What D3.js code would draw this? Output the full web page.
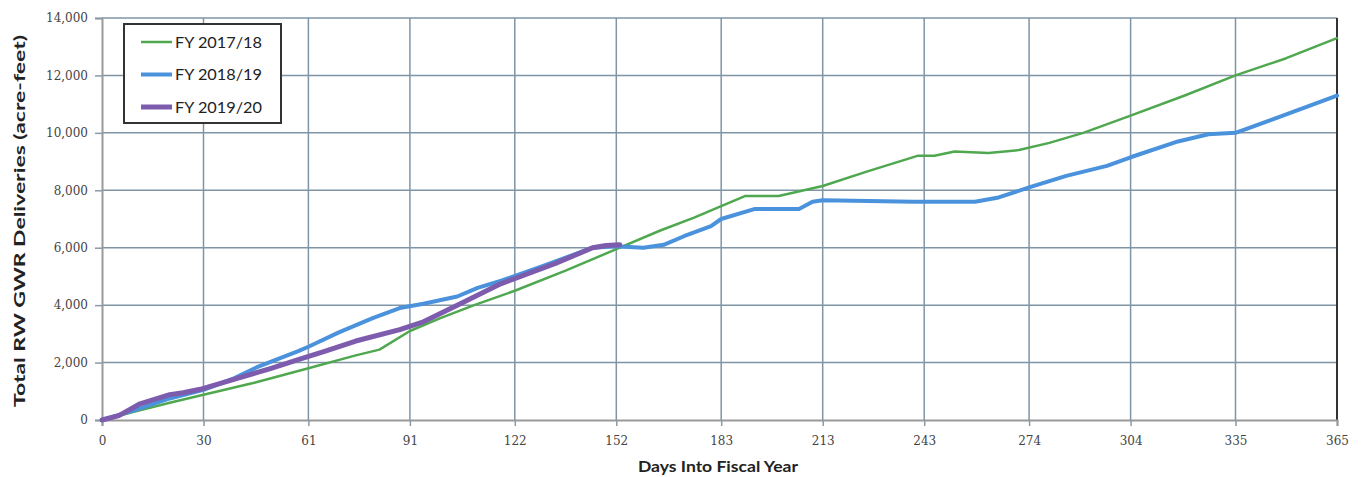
<!DOCTYPE html>
<html>
<head>
<meta charset="utf-8">
<script src="https://cdn.jsdelivr.net/npm/d3@7"></script>
<style>
  html, body { margin: 0; padding: 0; background: #fff; }
  svg { display: block; }
</style>
</head>
<body>
<svg id="chart" width="1361" height="477"></svg>
<script>
// x ticks are month boundaries in days
var dayTicks = [0, 30, 61, 91, 122, 152, 183, 213, 243, 274, 304, 335, 365];
var valueTicks = [0, 2000, 4000, 6000, 8000, 10000, 12000, 14000];

var seriesNames = ["FY 2017/18", "FY 2018/19", "FY 2019/20"];

// FY 2017/18
var days1718 = [0, 10, 20, 30, 45, 61, 75, 82, 91, 100, 110, 122, 137, 152, 165, 175, 183, 190, 200, 213, 226, 241, 246, 252, 262, 271, 280, 290, 304, 320, 335, 350, 365];
var vals1718 = [0, 300, 600, 880, 1300, 1800, 2250, 2450, 3100, 3550, 4000, 4500, 5200, 5950, 6600, 7050, 7450, 7800, 7800, 8150, 8650, 9200, 9200, 9350, 9300, 9400, 9650, 10000, 10600, 11300, 12000, 12600, 13300];

// FY 2018/19
var days1819 = [0, 10, 20, 30, 39, 46, 58, 61, 70, 80, 88, 95, 105, 111, 118, 130, 145, 152, 160, 166, 172, 180, 183, 193, 206, 210, 213, 240, 258, 265, 274, 285, 297, 304, 318, 327, 335, 349, 365];
var vals1819 = [0, 350, 750, 1050, 1450, 1850, 2400, 2550, 3050, 3550, 3900, 4050, 4300, 4600, 4850, 5350, 6000, 6050, 6000, 6100, 6400, 6750, 7000, 7350, 7350, 7600, 7650, 7600, 7600, 7750, 8100, 8500, 8850, 9150, 9700, 9950, 10000, 10600, 11300];

// FY 2019/20 (year to date)
var days1920 = [0, 5, 11, 20, 24, 29, 40, 50, 58, 66, 75, 88, 95, 105, 118, 134, 145, 149, 153];
var vals1920 = [0, 150, 550, 880, 950, 1070, 1450, 1800, 2100, 2400, 2750, 3150, 3420, 4000, 4750, 5450, 6000, 6080, 6100];

var svg = d3.select("#chart");

var x = d3.scaleLinear().domain([0, 365]).range([102, 1337]);
var y = d3.scaleLinear().domain([0, 14000]).range([420, 18]);

var gridColor = "#7f95a6";

// gridlines
svg.append("g")
    .selectAll("line")
    .data(valueTicks.slice(1))
    .join("line")
    .attr("x1", x(0)).attr("x2", x(365))
    .attr("y1", function(d) { return y(d); })
    .attr("y2", function(d) { return y(d); })
    .attr("stroke", gridColor)
    .attr("stroke-width", 1.5);

svg.append("g")
    .selectAll("line")
    .data(dayTicks.slice(1, -1))
    .join("line")
    .attr("x1", function(d) { return x(d); })
    .attr("x2", function(d) { return x(d); })
    .attr("y1", y(0)).attr("y2", y(14000))
    .attr("stroke", gridColor)
    .attr("stroke-width", 1.5);

// right border is darker
svg.append("line")
    .attr("x1", x(365)).attr("x2", x(365))
    .attr("y1", y(0)).attr("y2", y(14000))
    .attr("stroke", "#333")
    .attr("stroke-width", 2);

// axes
var xAxis = d3.axisBottom(x).tickValues(dayTicks).tickSize(6).tickPadding(10)
    .tickFormat(d3.format("d"));
var yAxis = d3.axisLeft(y).tickValues(valueTicks).tickSize(7).tickPadding(7)
    .tickFormat(d3.format(","));

var gx = svg.append("g").attr("transform", "translate(0," + y(0) + ")").call(xAxis);
var gy = svg.append("g").attr("transform", "translate(" + x(0) + ",0)").call(yAxis);

[gx, gy].forEach(function(g) {
    g.attr("font-family", "'DejaVu Serif', serif").attr("font-size", 12);
    g.select(".domain").attr("stroke", "#999").attr("stroke-width", 2);
    g.selectAll(".tick line").attr("stroke", "#8a9aa6").attr("stroke-width", 1.5);
    g.selectAll(".tick text").attr("fill", "#444");
});

// series
var line = d3.line()
    .x(function(d) { return x(d[0]); })
    .y(function(d) { return y(d[1]); });

var series = [
    { name: seriesNames[0], pts: d3.zip(days1718, vals1718), color: "#4fa84f", width: 2.5 },
    { name: seriesNames[1], pts: d3.zip(days1819, vals1819), color: "#4a92dc", width: 4 },
    { name: seriesNames[2], pts: d3.zip(days1920, vals1920), color: "#7d5cae", width: 5 }
];

svg.append("g")
    .selectAll("path")
    .data(series)
    .join("path")
    .attr("d", function(d) { return line(d.pts); })
    .attr("fill", "none")
    .attr("stroke", function(d) { return d.color; })
    .attr("stroke-width", function(d) { return d.width; })
    .attr("stroke-linejoin", "round")
    .attr("stroke-linecap", "round");

// legend
var legend = svg.append("g");
legend.append("rect")
    .attr("x", 124).attr("y", 24)
    .attr("width", 157).attr("height", 99)
    .attr("fill", "#fff")
    .attr("stroke", "#333")
    .attr("stroke-width", 2);

var rows = legend.selectAll("g.row")
    .data(series)
    .join("g")
    .attr("class", "row")
    .attr("transform", function(d, i) { return "translate(0," + (42 + i * 32.5) + ")"; });

rows.append("line")
    .attr("x1", 141).attr("x2", 172)
    .attr("stroke", function(d) { return d.color; })
    .attr("stroke-width", function(d) { return d.width; });

rows.append("text")
    .attr("x", 175)
    .attr("dy", "0.35em")
    .attr("fill", "#222")
    .attr("textLength", 87)
    .attr("lengthAdjust", "spacingAndGlyphs")
    .style("font-family", "Lato, sans-serif")
    .style("font-size", "16px")
    .text(function(d) { return d.name; });

// axis titles
svg.append("text")
    .attr("x", 718).attr("y", 472)
    .attr("text-anchor", "middle")
    .attr("fill", "#222")
    .attr("textLength", 160)
    .attr("lengthAdjust", "spacingAndGlyphs")
    .style("font-family", "Lato, sans-serif")
    .style("font-weight", "bold")
    .style("font-size", "16px")
    .text("Days Into Fiscal Year");

svg.append("text")
    .attr("transform", "translate(25,221) rotate(-90)")
    .attr("text-anchor", "middle")
    .attr("fill", "#222")
    .attr("textLength", 372)
    .attr("lengthAdjust", "spacingAndGlyphs")
    .style("font-family", "Lato, sans-serif")
    .style("font-weight", "bold")
    .style("font-size", "16px")
    .text("Total RW GWR Deliveries (acre-feet)");
</script>
</body>
</html>
